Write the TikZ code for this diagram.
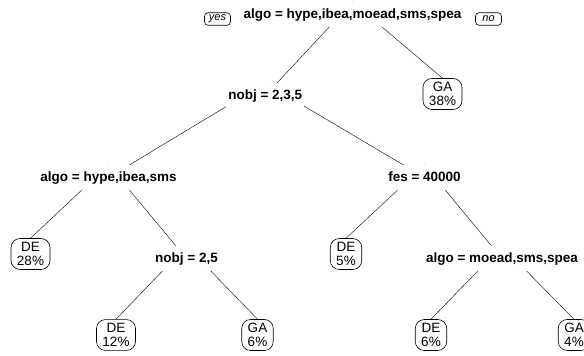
\documentclass[tikz,border=0pt]{standalone}
\usepackage{fontspec}
\setmainfont{Liberation Sans}
\usetikzlibrary{backgrounds}

\begin{document}
\begin{tikzpicture}[x=1pt,y=-1pt,line width=0.6pt,
    cond/.style={anchor=base,fill=white,inner xsep=2pt,inner ysep=6pt,text height=9.7pt,text depth=2.8pt,font=\fontsize{13.5}{15}\selectfont\bfseries},
    leaf/.style={draw,fill=white,rounded corners=9pt,align=center,inner xsep=6pt,inner ysep=3.5pt,font=\fontsize{13.5}{14.5}\selectfont},
    side/.style={draw,rounded corners=3.5pt,inner sep=0pt,minimum width=26pt,minimum height=12.5pt,font=\fontsize{11}{12}\selectfont\itshape}]
    \useasboundingbox (0,0) rectangle (584,356);
    \node[cond] (root) at (352.5,18) {algo = hype,ibea,moead,sms,spea};
    \node[side] (yes) at (217.5,19) {yes};
    \node[side] (no) at (488.5,19) {no};
    \node[cond] (nobj) at (265.3,99) {nobj = 2,3,5};
    \node[leaf] (ga1) at (442.5,94) {GA\\38\%};
    \node[cond] (algo1) at (108.5,181) {algo = hype,ibea,sms};
    \node[cond] (fes) at (424.5,181) {fes = 40000};
    \node[leaf] (de1) at (30.5,254) {DE\\28\%};
    \node[cond] (nobj2) at (186.5,262) {nobj = 2,5};
    \node[leaf] (de2) at (346,254) {DE\\5\%};
    \node[cond] (algo2) at (502,262) {algo = moead,sms,spea};
    \node[leaf] (de3) at (116,335) {DE\\12\%};
    \node[leaf] (ga2) at (257.5,335) {GA\\6\%};
    \node[leaf] (de4) at (431,335) {DE\\6\%};
    \node[leaf] (ga3) at (574,335) {GA\\4\%};
    \begin{pgfonlayer}{background}
        \draw (root.north) -- (nobj.center) (root.north) -- (ga1.north);
        \draw (nobj.north) -- (algo1.center) (nobj.north) -- (fes.center);
        \draw (algo1.north) -- (de1.north) (algo1.north) -- (nobj2.center);
        \draw (fes.north) -- (de2.north) (fes.north) -- (algo2.center);
        \draw (nobj2.north) -- (de3.north) (nobj2.north) -- (ga2.north);
        \draw (algo2.north) -- (de4.north) (algo2.north) -- (ga3.north);
    \end{pgfonlayer}
\end{tikzpicture}
\end{document}
